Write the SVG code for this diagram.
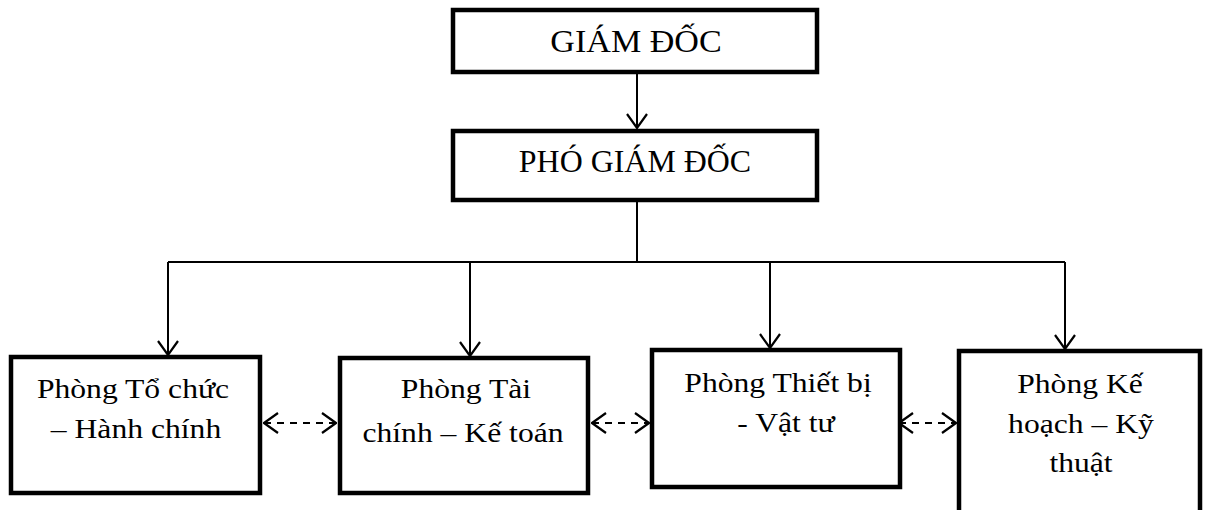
<svg xmlns="http://www.w3.org/2000/svg" width="1209" height="510" viewBox="0 0 1209 510">
<style>
  .box { fill: #ffffff; stroke: #000000; stroke-width: 4.5; }
  .t { font-family: "Liberation Serif", "Times New Roman", serif; fill: #000000; text-anchor: middle; }
  .big { font-size: 31px; }
  .sm { font-size: 28px; }
  .line { fill: none; stroke: #000000; stroke-width: 2; }
  .dash { fill: none; stroke: #000000; stroke-width: 2; stroke-dasharray: 7 6; }
</style>
<defs>
  <marker id="arr" viewBox="0 0 16 22" refX="15" refY="11" markerWidth="16" markerHeight="22" markerUnits="userSpaceOnUse" orient="auto-start-reverse">
    <path d="M1,1 L15,11 L1,21" fill="none" stroke="#000" stroke-width="2.2"/>
  </marker>
</defs>
<rect width="1209" height="510" fill="#ffffff"/>
<g id="connectors">
  <line class="line" x1="637" y1="72" x2="637" y2="128" marker-end="url(#arr)"/>
  <polyline class="line" points="637,200 637,262"/>
  <line class="line" x1="168" y1="262" x2="1065" y2="262"/>
  <line class="line" x1="168" y1="262" x2="168" y2="355" marker-end="url(#arr)"/>
  <line class="line" x1="470" y1="262" x2="470" y2="356" marker-end="url(#arr)"/>
  <line class="line" x1="770" y1="262" x2="770" y2="348" marker-end="url(#arr)"/>
  <line class="line" x1="1065" y1="262" x2="1065" y2="349" marker-end="url(#arr)"/>
  <line class="dash" x1="264" y1="423" x2="336" y2="423" marker-start="url(#arr)" marker-end="url(#arr)"/>
  <line class="dash" x1="592" y1="423" x2="649" y2="423" marker-start="url(#arr)" marker-end="url(#arr)"/>
  <line class="dash" x1="899" y1="423" x2="956" y2="423" marker-start="url(#arr)" marker-end="url(#arr)"/>
</g>
<g id="giam-doc">
  <rect class="box" x="453" y="10" width="364" height="62"/>
  <text class="t big" transform="translate(636,52) scale(1.1,1)">GIÁM ĐỐC</text>
</g>
<g id="pho-giam-doc">
  <rect class="box" x="453" y="131" width="364" height="69"/>
  <text class="t big" transform="translate(635,172) scale(1.03,1)">PHÓ GIÁM ĐỐC</text>
</g>
<g id="phong-to-chuc">
  <rect class="box" x="11" y="357" width="249" height="136"/>
  <text class="t sm" transform="translate(133,398) scale(1.13,1)">Phòng Tổ chức</text>
  <text class="t sm" transform="translate(136,438) scale(1.13,1)">– Hành chính</text>
</g>
<g id="phong-tai-chinh">
  <rect class="box" x="340" y="358" width="248" height="135"/>
  <text class="t sm" transform="translate(466,398) scale(1.13,1)">Phòng Tài</text>
  <text class="t sm" transform="translate(463,442) scale(1.13,1)">chính – Kế toán</text>
</g>
<g id="phong-thiet-bi">
  <rect class="box" x="652" y="350" width="248" height="137"/>
  <text class="t sm" transform="translate(778,392) scale(1.13,1)">Phòng Thiết bị</text>
  <text class="t sm" transform="translate(786,432) scale(1.13,1)">- Vật tư</text>
</g>
<g id="phong-ke-hoach">
  <rect class="box" x="959" y="351" width="241" height="200"/>
  <text class="t sm" transform="translate(1080,393) scale(1.13,1)">Phòng Kế</text>
  <text class="t sm" transform="translate(1081,433) scale(1.13,1)">hoạch – Kỹ</text>
  <text class="t sm" transform="translate(1081,472) scale(1.13,1)">thuật</text>
</g>
</svg>
